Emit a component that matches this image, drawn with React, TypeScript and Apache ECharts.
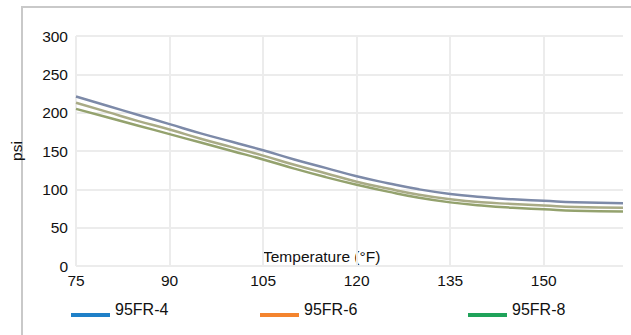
import React, { useEffect, useRef } from "react";
import * as echarts from "echarts";

const temps = [75, 80, 85, 90, 95, 100, 105, 110, 115, 120, 125, 130, 135, 140, 145, 150, 155, 162.7];
const fr4 = [221, 209, 197, 185, 173, 162, 151, 139, 128, 117, 108, 100, 94, 90, 87, 85, 83, 82];
const fr6 = [213, 201, 189, 178, 166, 155, 144, 132, 121, 110, 101, 93, 87, 83, 81, 79, 77, 76];
const fr8 = [205, 194, 183, 172, 161, 150, 139, 127, 116, 106, 97, 89, 83, 79, 76, 74, 72, 71];
const seriesNames = ["95FR-4", "95FR-6", "95FR-8"];
const legendColors = ["#1f80c8", "#f4842e", "#20a35a"];
const lineColors = ["#7d8aa8", "#a9ab86", "#94a26e"];

export default function App() {
  const ref = useRef<HTMLDivElement>(null);
  useEffect(() => {
    if (!ref.current) return;
    const chart = echarts.init(ref.current, undefined, { renderer: "svg" });
    const font = "'Liberation Sans', Arial, Helvetica, sans-serif";
    const values = [fr4, fr6, fr8];
    const legendLefts = [66, 255, 463];
    chart.setOption({
      animation: false,
      backgroundColor: "#ffffff",
      textStyle: { fontFamily: font },
      grid: { left: 70, right: 8, top: 36, bottom: 69 },
      xAxis: {
        type: "value",
        min: 75,
        max: 162.7,
        interval: 15,
        axisLine: { show: false },
        axisTick: { show: false },
        splitLine: { show: true, showMaxLine: false, lineStyle: { color: "#ececec", width: 2 } },
        axisLabel: {
          color: "#111",
          fontSize: 15.5,
          fontFamily: font,
          margin: 6,
          showMaxLabel: false,
        },
      },
      yAxis: {
        type: "value",
        min: 0,
        max: 300,
        interval: 50,
        name: "psi",
        nameLocation: "middle",
        nameGap: 52,
        nameTextStyle: { color: "#111", fontSize: 15.5, fontFamily: font },
        axisLine: { show: false },
        axisTick: { show: false },
        splitLine: { show: true, lineStyle: { color: "#ececec", width: 2 } },
        axisLabel: { color: "#111", fontSize: 15.5, fontFamily: font, margin: 8 },
      },
      legend: seriesNames.map((n, i) => ({
        data: [n],
        left: legendLefts[i],
        top: 296,
        icon: "rect",
        itemWidth: 39,
        itemHeight: 4,
        itemStyle: { color: legendColors[i] },
        formatter: "{a|{name}}",
        textStyle: {
          color: "#111",
          fontSize: 16,
          fontFamily: font,
          rich: {
            a: {
              color: "#111",
              fontSize: 16,
              fontFamily: font,
              lineHeight: 16,
              padding: [0, 0, 12, 0],
            },
          },
        },
      })),
      graphic: [
        {
          type: "rect",
          z: -10,
          silent: true,
          shape: { x: 22, y: 7, width: 700, height: 400 },
          style: { fill: "none", stroke: "#c9c9c9", lineWidth: 2 },
        },
        {
          type: "text",
          left: 263,
          top: 248,
          style: {
            text: "Temperature (°F)",
            fill: "#111",
            fontSize: 15.5,
            fontFamily: font,
          },
        },
      ],
      series: seriesNames.map((n, i) => ({
        name: n,
        type: "line",
        smooth: true,
        showSymbol: false,
        data: temps.map((t, j) => [t, values[i][j]]),
        lineStyle: { color: lineColors[i], width: 2.5 },
        itemStyle: { color: legendColors[i] },
      })),
    });
    return () => chart.dispose();
  }, []);
  return (
    <div
      ref={ref}
      style={{ position: "absolute", left: 0, top: 0, width: 631, height: 335 }}
    />
  );
}
